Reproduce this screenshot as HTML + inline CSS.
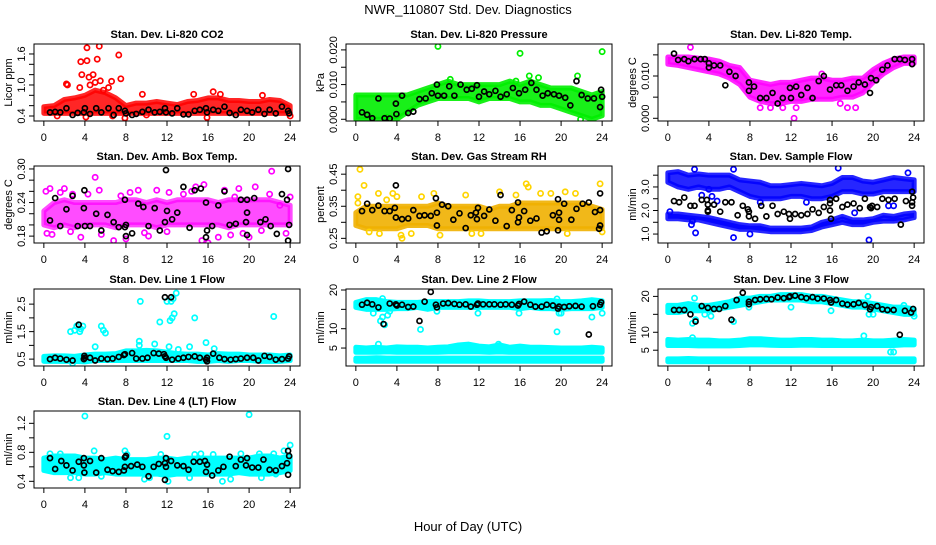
<!DOCTYPE html>
<html><head><meta charset="utf-8"><style>
body{margin:0;background:#fff;}
svg text{font-family:"Liberation Sans",sans-serif;fill:#000;}
</style></head><body>
<svg id="chart" width="936" height="540" viewBox="0 0 936 540" xmlns="http://www.w3.org/2000/svg">
<text x="468" y="14" font-size="13" text-anchor="middle">NWR_110807  Std. Dev. Diagnostics</text>
<text x="468" y="531" font-size="13" text-anchor="middle">Hour of Day (UTC)</text>
</svg>
<script>
const hours=[0,1,2,3,4,5,6,7,8,9,10,11,12,13,14,15,16,17,18,19,20,21,22,23,24];
const xTicks=[0,4,8,12,16,20,24];

// P1 CO2
const co2Lo=[0.45,0.45,0.45,0.45,0.45,0.45,0.45,0.45,0.45,0.45,0.45,0.45,0.45,0.45,0.45,0.45,0.45,0.45,0.45,0.45,0.45,0.45,0.45,0.45,0.45];
const co2Hi=[0.58,0.6,0.72,0.75,0.8,0.9,0.85,0.75,0.6,0.65,0.65,0.68,0.65,0.62,0.68,0.7,0.75,0.75,0.7,0.7,0.68,0.68,0.72,0.7,0.6];
const co2PtX=[2.2,2.3,3.5,3.6,3.7,4.2,4.2,4.4,4.8,5,5.2,5.4,5.5,6.3,6.6,7.3,7.5,4.5,5.8,9.6,14.6,16.5,17.2,21.3,1.3,4.1,7.9,15.9,10,24,6.7];
const co2PtY=[1.02,1.0,0.95,1.45,1.2,1.72,1.47,1.15,1.2,1.05,1.5,1.75,1.08,0.95,1.07,1.58,1.12,1.0,0.9,0.82,0.82,0.87,0.82,0.8,0.4,0.38,0.36,0.37,0.42,0.4,0.4];
const co2BkX=[0.6,1.1,1.6,2.2,2.8,3.3,3.9,4.0,4.5,5.1,5.6,6.3,6.8,7.3,7.9,8,8.6,9.0,9.6,10.2,10.8,11.3,11.8,11.9,12.5,13,13.6,14.1,14.7,15.2,15.8,15.9,16.5,17,17.6,18.1,18.7,19.2,19.8,20.3,20.9,21.5,22,22.6,23.2,23.8,23.9];
const co2BkY=[0.47,0.48,0.47,0.55,0.42,0.46,0.47,0.55,0.44,0.55,0.47,0.55,0.42,0.55,0.5,0.45,0.42,0.44,0.48,0.52,0.47,0.48,0.55,0.47,0.45,0.55,0.43,0.43,0.5,0.52,0.55,0.47,0.52,0.5,0.58,0.46,0.42,0.52,0.5,0.47,0.52,0.44,0.52,0.45,0.58,0.5,0.45];

// P2 pressure
const prLo=[0,0,0,0,0,0.002,0.004,0.005,0.006,0.006,0.006,0.006,0.005,0.006,0.006,0.006,0.005,0.005,0.004,0.004,0.003,0.002,0.001,0,0.001];
const prHi=[0.007,0.007,0.007,0.007,0.007,0.007,0.008,0.009,0.010,0.011,0.010,0.010,0.010,0.010,0.010,0.011,0.010,0.011,0.010,0.009,0.009,0.009,0.008,0.007,0.008];
const prPtX=[8,16,24,16.9,17.8,21.6,15.6,9.2,21.9,3];
const prPtY=[0.021,0.019,0.0195,0.0125,0.012,0.0125,0.011,0.0115,0.0,0.0005];
const prBkX=[0.6,1.1,1.6,2.2,2.8,3.3,3.9,3.95,4.5,5.1,5.6,6.2,6.8,7.4,7.9,8,8.6,9.1,9.6,10.2,10.8,11.3,11.8,12,12.5,13,13.6,14.1,14.7,15.3,15.9,16.5,17.1,17.6,18.2,18.7,19.3,19.8,20.4,20.9,21.5,22,22.6,23.2,23.8,23.9,24];
const prBkY=[0.002,0.0013,0.0003,0.006,0.0003,0.0002,0.0045,0.0015,0.0068,0.0018,0.0022,0.0058,0.006,0.0075,0.01,0.0068,0.0068,0.0095,0.0068,0.01,0.0085,0.0088,0.0098,0.0065,0.008,0.0072,0.0082,0.0065,0.0072,0.009,0.0075,0.0085,0.0105,0.0085,0.0068,0.0075,0.0072,0.0068,0.0062,0.004,0.011,0.007,0.006,0.006,0.0035,0.0085,0.0065];

// P3 Li-820 temp
const ltLo=[0.0128,0.0125,0.012,0.0115,0.011,0.0105,0.0095,0.008,0.005,0.004,0.0035,0.0035,0.004,0.004,0.0045,0.0045,0.0045,0.005,0.005,0.006,0.0085,0.0105,0.012,0.013,0.013];
const ltHi=[0.0145,0.0145,0.0145,0.0142,0.014,0.0135,0.0125,0.012,0.009,0.0085,0.008,0.0085,0.0085,0.009,0.0095,0.0095,0.009,0.009,0.0095,0.0095,0.0115,0.013,0.014,0.0145,0.0145];
const ltPtX=[2.2,12.3,9,10,11.2,16.8,17.5,18.3,15,12.5];
const ltPtY=[0.0168,0,0.0025,0.0025,0.0025,0.0035,0.0025,0.0025,0.0105,0.0025];
const ltBkX=[0.6,1,1.6,2,2.6,3.2,3.6,4,4,4.5,5.1,5.6,6,6.6,7.9,7.9,8.4,9,9.6,10.2,10.7,11.2,11.9,12,12.5,13,13.6,14.1,14.7,15.2,15.8,16.4,16.9,17.5,18.1,18.6,19.2,19.7,19.8,20.3,20.9,21.4,22.1,22.6,23.1,23.8,23.8];
const ltBkY=[0.0153,0.0138,0.014,0.0135,0.014,0.014,0.014,0.013,0.012,0.0125,0.0125,0.0078,0.011,0.01,0.0085,0.0065,0.0075,0.0048,0.0048,0.006,0.0035,0.0048,0.0072,0.0048,0.0075,0.0055,0.0072,0.0048,0.0088,0.01,0.0068,0.0078,0.0078,0.0065,0.0075,0.0085,0.008,0.006,0.0095,0.009,0.0115,0.0125,0.014,0.014,0.0138,0.014,0.0128];

// P4 amb box temp
const abLo=[0.2,0.195,0.2,0.195,0.2,0.2,0.2,0.195,0.2,0.2,0.2,0.195,0.2,0.2,0.2,0.2,0.2,0.2,0.195,0.2,0.2,0.2,0.2,0.2,0.2];
const abHi=[0.225,0.24,0.245,0.24,0.24,0.24,0.24,0.24,0.245,0.245,0.24,0.245,0.24,0.245,0.245,0.245,0.245,0.24,0.245,0.245,0.245,0.245,0.245,0.24,0.235];
const abPtX=[0.2,0.6,0.3,0.8,1.6,2,2.6,2.8,3.6,4.3,5,5.4,5.6,6.8,7.5,8,8.4,9.2,9.8,10.2,11,12,12.2,13.6,14.4,14.8,15.4,15.6,16,17,17.6,18.2,18.6,19,19.4,20,20.6,21.2,22.2,22,23,23.6,24];
const abPtY=[0.26,0.265,0.185,0.183,0.258,0.265,0.188,0.255,0.178,0.255,0.285,0.262,0.183,0.172,0.252,0.175,0.258,0.262,0.186,0.18,0.262,0.188,0.258,0.255,0.26,0.268,0.172,0.272,0.168,0.178,0.262,0.182,0.25,0.265,0.185,0.178,0.268,0.19,0.296,0.255,0.235,0.185,0.25];
const abBkX=[0.6,1.1,1.6,2.2,2.8,3.3,3.9,3.95,4,4.5,5.1,5.6,6.2,6.8,7.3,7.9,7.9,8,8,8.6,9.2,9.7,10.2,10.8,11.3,11.8,11.9,12,12.5,13,13.6,14.2,14.7,15.3,15.8,15.9,15.8,16.4,17,17.6,18.1,18.7,19.2,19.7,19.8,19.8,19.8,20.5,21.1,21.6,22.1,22.7,23.2,23.7,23.8,23.8,23.9];
const abBkY=[0.208,0.248,0.198,0.228,0.252,0.198,0.23,0.262,0.198,0.198,0.22,0.19,0.218,0.205,0.196,0.245,0.196,0.2,0.18,0.185,0.238,0.232,0.198,0.23,0.19,0.205,0.298,0.225,0.21,0.222,0.268,0.195,0.262,0.265,0.24,0.19,0.178,0.198,0.235,0.26,0.2,0.202,0.245,0.205,0.182,0.222,0.245,0.248,0.205,0.21,0.198,0.184,0.255,0.245,0.3,0.172,0.2];

// P5 gas stream RH
const rhLo=[0.29,0.28,0.28,0.28,0.28,0.29,0.29,0.29,0.28,0.28,0.28,0.28,0.28,0.28,0.28,0.28,0.28,0.28,0.28,0.28,0.28,0.28,0.28,0.28,0.28];
const rhHi=[0.33,0.35,0.35,0.35,0.35,0.35,0.35,0.35,0.36,0.35,0.35,0.35,0.35,0.34,0.35,0.35,0.36,0.36,0.36,0.36,0.36,0.36,0.36,0.35,0.34];
const rhPtX=[0.4,0.2,0.2,0.8,2.2,3,3.6,4,4.4,4.5,5.4,6.4,7.6,8.2,10.7,11.3,12.2,14,15.6,16.6,16.8,18,19,20.4,21.4,20.6,23.8,24,1.3,2.3];
const rhPtY=[0.465,0.38,0.36,0.415,0.39,0.37,0.39,0.38,0.26,0.25,0.265,0.38,0.39,0.26,0.385,0.265,0.265,0.395,0.385,0.42,0.41,0.39,0.39,0.395,0.39,0.265,0.42,0.27,0.27,0.265];
const rhBkX=[0.6,1.1,1.6,2.2,2.8,3.3,3.8,3.9,3.9,4.5,5.1,5.6,6.2,6.7,7.3,7.8,7.9,7.9,8.4,9,9.5,10.1,10.7,11.2,11.7,11.8,11.9,12.5,13,13.6,14.1,14.7,15.2,15.8,15.8,15.9,16.4,17,17.6,18.1,18.6,19.2,19.7,19.8,19.7,19.8,20.3,21,21.5,22.1,22.7,23.3,23.8,23.8,23.8,23.7];
const rhBkY=[0.335,0.358,0.338,0.352,0.335,0.335,0.345,0.315,0.415,0.31,0.312,0.338,0.32,0.322,0.32,0.375,0.33,0.29,0.355,0.35,0.308,0.328,0.282,0.322,0.33,0.31,0.345,0.32,0.34,0.305,0.385,0.288,0.338,0.362,0.3,0.315,0.335,0.305,0.312,0.268,0.272,0.322,0.372,0.33,0.275,0.308,0.358,0.308,0.342,0.358,0.362,0.332,0.338,0.39,0.29,0.28];

// P6 sample flow
const sfUpLo=[3.2,3.0,2.9,3.0,2.9,2.9,3.0,2.8,2.6,2.5,2.5,2.5,2.6,2.6,2.5,2.5,2.6,2.8,2.8,2.7,2.7,2.8,2.8,2.8,2.8];
const sfUpHi=[3.6,3.65,3.5,3.55,3.5,3.5,3.5,3.3,3.25,3.2,3.05,3.05,3.1,3.15,3.1,3.05,3.15,3.4,3.4,3.25,3.2,3.3,3.4,3.35,3.3];
const sfDnLo=[1.65,1.65,1.6,1.6,1.5,1.4,1.3,1.2,1.2,1.15,1.1,1.1,1.1,1.1,1.15,1.3,1.4,1.5,1.4,1.4,1.5,1.55,1.55,1.6,1.7];
const sfDnHi=[1.85,1.85,1.8,1.75,1.7,1.6,1.5,1.4,1.35,1.35,1.25,1.25,1.25,1.25,1.3,1.5,1.6,1.75,1.6,1.6,1.65,1.8,1.75,1.85,1.9];
const sfPtX=[0.2,2.7,6.4,19.6,2.6,6.4,3.3,4,4.3,2.3,2.4,8,13.5,21.5,22,18.2,4.8,9,16.6,23.4];
const sfPtY=[1.95,1.05,0.85,0.75,3.75,3.75,2.65,2.9,2.6,1.4,1.55,1.0,2.35,2.2,2.2,1.9,2.4,2.35,3.8,3.6];
const sfBkX=[0.6,1.1,1.6,2.2,2.6,3.3,3.8,3.9,3.9,3.9,4.5,5.1,5.6,6.2,6.8,7.3,7.8,7.9,7.9,8.5,9.1,9.6,10.2,10.7,11.3,11.8,11.9,12.4,13,13.6,14.1,14.7,15.2,15.8,15.8,15.8,15.9,16.4,17,17.5,18.1,18.7,19.2,19.7,19.8,19.9,20.4,20.9,21.5,22.1,22.7,23.2,23.8,23.8,23.9,23.8];
const sfBkY=[2.4,2.35,2.55,2.2,2.2,2.45,2.45,2.0,1.95,2.25,2.25,1.95,2.35,2.35,1.8,2.2,2.05,1.75,1.95,1.65,2.2,1.75,2.2,1.85,1.95,1.85,1.65,1.85,1.8,1.85,2.05,1.9,2.15,2.45,2.3,2.0,1.65,2.5,2.15,2.25,2.3,2.1,2.5,2.15,2.1,2.2,2.15,2.5,2.45,2.5,1.4,2.4,2.2,2.8,2.55,2.35];

// P7 line 1 flow
const l1Lo=[0.42,0.42,0.42,0.42,0.4,0.45,0.45,0.45,0.45,0.45,0.45,0.45,0.45,0.45,0.45,0.42,0.42,0.45,0.42,0.45,0.45,0.42,0.42,0.42,0.45];
const l1Hi=[0.6,0.62,0.62,0.6,0.65,0.68,0.68,0.7,0.8,0.8,0.82,0.8,0.75,0.7,0.68,0.68,0.65,0.7,0.68,0.68,0.65,0.65,0.65,0.62,0.65];
const l1PtX=[2.6,3,3.2,3.4,3.6,3.8,3.5,5.6,5.8,6,5,9.3,9.4,10.8,11.3,12,12.2,12.3,12.5,12.7,12.9,12.4,12.6,13.1,14.2,14.7,15.8,16.6,22.4,2.8,9.3];
const l1PtY=[1.5,1.55,1.7,1.75,1.6,1.7,1.5,1.7,1.55,1.45,0.95,1.15,2.6,1.05,1.85,2.6,0.95,1.9,2.0,2.15,2.9,2.6,2.7,0.85,0.95,2.0,1.1,0.88,2.05,0.35,1.0];
const l1BkX=[0.6,1.1,1.6,2.2,2.8,3.4,3.9,3.95,4,4.5,5,5.6,6.2,6.7,7.3,7.8,7.9,8.6,9,9.6,10.1,10.7,11.2,11.7,11.8,11.9,11.8,12.4,12.5,13.1,13.6,14.1,14.7,15.2,15.8,15.9,15.9,16.5,17.1,17.6,18.2,18.7,19.2,19.8,20.4,20.9,21.5,22,22.6,23.2,23.8,23.9];
const l1BkY=[0.5,0.55,0.52,0.48,0.45,1.75,0.5,0.62,0.55,0.55,0.45,0.52,0.5,0.52,0.58,0.65,0.68,0.72,0.52,0.52,0.55,0.72,0.7,0.68,0.6,0.55,2.75,2.75,0.48,0.52,0.55,0.58,0.6,0.55,0.48,0.42,0.55,0.7,0.55,0.5,0.48,0.5,0.52,0.55,0.55,0.45,0.62,0.58,0.48,0.5,0.52,0.6];

// P8 line 2 flow
const l2TopLo=[15.5,15,15,15,15.2,15.2,15.5,15,15.5,15.5,15.5,15.5,15.5,15.5,15.5,15.5,15.2,15.5,15.2,15.2,15,15.2,15.2,15.2,15.5];
const l2TopHi=[16.8,17.5,17.5,17,16.8,16.8,16.8,17,17,17,17,17.2,17.2,17,17,17,17.2,17.2,17.2,17.3,17,17,17.2,17.5,17.2];
const l2MidLo=[3.9,3.9,3.9,4.0,3.9,3.9,3.9,3.9,3.9,4.0,4.0,4.0,4.0,3.9,4.0,3.9,3.9,3.9,3.9,3.9,3.9,3.9,3.9,3.9,3.9];
const l2MidHi=[5.2,5.0,5.2,5.0,5.3,5.2,5.2,5.0,5.2,5.3,5.8,6.0,5.5,5.3,5.8,5.2,5.5,5.2,5.2,5.1,5.0,5.0,5.0,5.2,5.0];
const l2BotLo=[1.6,1.6,1.6,1.6,1.6,1.6,1.6,1.6,1.6,1.6,1.6,1.6,1.6,1.6,1.6,1.6,1.6,1.6,1.6,1.6,1.6,1.6,1.6,1.6,1.6];
const l2BotHi=[2.4,2.4,2.5,2.4,2.4,2.4,2.4,2.4,2.4,2.4,2.4,2.4,2.4,2.4,2.4,2.4,2.4,2.4,2.4,2.4,2.4,2.4,2.4,2.4,2.4];
const l2PtX=[1.7,2.4,2.6,2.8,3.1,3.3,2.6,6.3,7.9,11.9,15.9,19.6,19.6,19.8,20,23,24,2.2,13.9];
const l2PtY=[14,12,13,11,13.5,14.5,17.8,9.8,14.5,14,14,9.2,17.7,14,14,13,14,6.0,6.0];
const l2BkX=[0.6,1.1,1.6,2.2,2.7,3.3,3.9,4,4.5,5.1,5.6,6.2,6.7,7.3,7.8,7.9,8.5,9,9.6,10.1,10.7,11.2,11.8,11.9,12.4,13,13.5,14.1,14.6,15.2,15.8,15.9,16.4,17,17.5,18.1,18.6,19.2,19.7,19.8,20.3,20.8,21.4,22,22.7,23.1,23.8,23.9];
const l2BkY=[16.2,16.7,16.3,15.5,11.2,16.5,16.3,16,16.2,15.6,15.7,12,17,19.5,16.2,15.5,16.5,16.6,16.4,16.2,16.3,15.7,16.2,16.5,16.3,16.3,16.3,16.2,16.3,16.2,16,16.4,17,16.2,15.7,15.7,16.2,16,15.2,15.7,15.6,15.8,15.9,15.7,8.5,15.8,16.2,16.8];

// P9 line 3 flow
const l3TopLo=[15.5,15.5,16,16,16,16.5,17,17.5,18,18.5,19,19,19,19,18.5,18.5,18,17.5,17,17,16.5,16,15.5,15,15];
const l3TopHi=[17.5,17.5,18,17.5,17.5,18,18.5,19.5,19.5,20,20,20.5,20.5,20.5,20,20,19.5,19,18.5,18.5,18,17.5,17,17,16.5];
const l3MidLo=[6.3,6.3,6.3,6.2,6.2,6.2,6.2,6.3,6.5,6.5,6.4,6.3,6.3,6.4,6.4,6.3,6.3,6.3,6.3,6.3,6.3,6.3,6.3,6.5,6.5];
const l3MidHi=[8.0,7.8,8.0,7.8,7.8,7.6,7.6,7.8,8.2,8.2,8.0,7.8,7.8,8.0,8.0,7.8,7.8,7.6,7.6,7.8,7.6,7.6,7.8,8.0,7.8];
const l3BotLo=[1.8,1.8,1.8,1.8,1.8,1.8,1.8,1.8,1.8,1.8,1.8,1.8,1.8,1.8,1.8,1.8,1.8,1.8,1.8,1.8,1.8,1.8,1.8,1.8,1.8];
const l3BotHi=[2.6,2.6,2.7,2.6,2.6,2.6,2.6,2.6,2.6,2.6,2.6,2.6,2.6,2.6,2.6,2.6,2.6,2.6,2.6,2.6,2.6,2.6,2.6,2.6,2.6];
const l3PtX=[2.4,2.7,2.6,3.6,4.2,6.4,7.9,12,15.9,19.5,19.6,20,23,24,21.7,22,2.4,19.1];
const l3PtY=[12.5,13.5,19.5,15,14.5,13,17,17,16,20,15,15,17.5,14.5,4.5,4.5,8.5,9.0];
const l3BkX=[0.6,1.1,1.6,2.2,2.7,3.3,3.9,4.5,5,5.6,6.2,6.7,7.3,7.9,7.9,8.5,9,9.6,10.1,10.7,11.3,11.8,11.9,12.4,13,13.5,14.1,14.6,15.2,15.8,15.9,16.4,17,17.5,18.1,18.6,19.2,19.7,19.8,20.4,20.9,21.4,22,22.6,23.1,23.7,23.9];
const l3BkY=[16.2,16.2,16.2,15,13,17.3,16.8,16.5,16.5,17.3,13.5,19,21,18.5,17.8,19,19.2,19.3,19.2,19.7,19.5,19.8,20,20.2,19.8,19.5,19.8,19.4,19.4,19,18.3,19,18,17.7,17.8,18.2,17.6,16.4,17,17.3,16.4,16.2,16.2,9.3,16,15.5,16.5];

// P10 line 4 flow
const l4Lo=[0.55,0.52,0.52,0.52,0.5,0.5,0.52,0.5,0.5,0.5,0.5,0.5,0.48,0.5,0.5,0.5,0.5,0.5,0.5,0.52,0.5,0.5,0.5,0.52,0.55];
const l4Hi=[0.72,0.75,0.75,0.75,0.72,0.72,0.7,0.72,0.7,0.7,0.7,0.72,0.72,0.7,0.72,0.72,0.72,0.72,0.72,0.72,0.72,0.75,0.75,0.72,0.75];
const l4PtX=[4,20,12,24,4.9,7.9,0.6,1.6,2.6,3.4,5.6,9.8,10.3,12.1,14.2,17.4,18.2,21.2,22.6,8.1,11.4,14.7,15.3,16.5,19.2,21,22.4,23.4];
const l4PtY=[1.3,1.32,1.02,0.9,0.82,0.82,0.78,0.78,0.45,0.45,0.47,0.43,0.45,0.4,0.45,0.4,0.43,0.45,0.5,0.77,0.77,0.77,0.78,0.77,0.78,0.78,0.78,0.82];
const l4BkX=[0.6,1.1,1.7,2.2,2.8,3.4,3.9,3.9,3.95,4.5,5.1,5.6,6.2,6.7,7.3,7.8,7.9,7.9,8,8.5,9.1,9.6,10.2,10.7,11.2,11.8,11.8,11.9,11.9,12.4,13,13.6,14.1,14.6,15.2,15.7,15.8,15.9,16.4,17,17.5,18.1,18.7,19.2,19.7,19.8,20.3,20.9,21.4,22,22.6,23.2,23.7,23.8,23.9,23.8];
const l4BkY=[0.72,0.57,0.68,0.62,0.55,0.67,0.72,0.62,0.52,0.68,0.52,0.72,0.56,0.54,0.53,0.55,0.6,0.73,0.75,0.61,0.63,0.6,0.47,0.6,0.64,0.42,0.65,0.72,0.6,0.68,0.62,0.61,0.56,0.67,0.67,0.68,0.53,0.63,0.48,0.55,0.6,0.74,0.61,0.7,0.62,0.72,0.59,0.59,0.7,0.56,0.55,0.61,0.65,0.82,0.75,0.49];

const panels=[
 {name:'co2',title:'Stan. Dev. Li-820 CO2',ylab:'Licor ppm',col:0,row:0,ymin:0.303,ymax:1.793,ticks:[0.4,0.6,0.8,1.0,1.2,1.4,1.6],labels:['0.4','1.0','1.6'],color:'#ff0000',bands:[[co2Lo,co2Hi]],px:co2PtX,py:co2PtY,bx:co2BkX,by:co2BkY,op:0.85},
 {name:'pressure',title:'Stan. Dev. Li-820 Pressure',ylab:'kPa',col:1,row:0,ymin:-0.0005,ymax:0.0217,ticks:[0,0.005,0.01,0.015,0.02],labels:['0.000','0.010','0.020'],color:'#00ee00',bands:[[prLo,prHi]],px:prPtX,py:prPtY,bx:prBkX,by:prBkY,op:0.9},
 {name:'li820-temp',title:'Stan. Dev. Li-820 Temp.',ylab:'degrees C',col:2,row:0,ymin:-0.00064,ymax:0.01757,ticks:[0,0.005,0.01,0.015],labels:['0.000','0.010'],color:'#ff00ff',bands:[[ltLo,ltHi]],px:ltPtX,py:ltPtY,bx:ltBkX,by:ltBkY,op:0.85},
 {name:'amb-box-temp',title:'Stan. Dev. Amb. Box Temp.',ylab:'degrees C',col:0,row:1,ymin:0.1677,ymax:0.3053,ticks:[0.18,0.2,0.22,0.24,0.26,0.28,0.3],labels:['0.18','0.24','0.30'],color:'#ff00ff',bands:[[abLo,abHi]],px:abPtX,py:abPtY,bx:abBkX,by:abBkY,op:0.7},
 {name:'gas-stream-rh',title:'Stan. Dev. Gas Stream RH',ylab:'percent',col:1,row:1,ymin:0.2355,ymax:0.4755,ticks:[0.25,0.3,0.35,0.4,0.45],labels:['0.25','0.35','0.45'],color:'#f0b000',pcolor:'#ffd400',bands:[[rhLo,rhHi]],px:rhPtX,py:rhPtY,bx:rhBkX,by:rhBkY,op:0.9},
 {name:'sample-flow',title:'Stan. Dev. Sample Flow',ylab:'ml/min',col:2,row:1,ymin:0.62,ymax:3.89,ticks:[1,1.5,2,2.5,3,3.5],labels:['1.0','2.0','3.0'],color:'#0000ff',bands:[[sfUpLo,sfUpHi],[sfDnLo,sfDnHi]],px:sfPtX,py:sfPtY,bx:sfBkX,by:sfBkY,op:0.85},
 {name:'line1-flow',title:'Stan. Dev. Line 1 Flow',ylab:'ml/min',col:0,row:2,ymin:0.25,ymax:3.05,ticks:[0.5,1,1.5,2,2.5],labels:['0.5','1.5','2.5'],color:'#00ffff',bands:[[l1Lo,l1Hi]],px:l1PtX,py:l1PtY,bx:l1BkX,by:l1BkY,op:1},
 {name:'line2-flow',title:'Stan. Dev. Line 2 Flow',ylab:'ml/min',col:1,row:2,ymin:0.36,ymax:20.26,ticks:[5,10,15,20],labels:['5','10','20'],color:'#00ffff',bands:[[l2TopLo,l2TopHi],[l2MidLo,l2MidHi],[l2BotLo,l2BotHi]],px:l2PtX,py:l2PtY,bx:l2BkX,by:l2BkY,op:1},
 {name:'line3-flow',title:'Stan. Dev. Line 3 Flow',ylab:'ml/min',col:2,row:2,ymin:0.6,ymax:22.06,ticks:[5,10,15,20],labels:['5','10','20'],color:'#00ffff',bands:[[l3TopLo,l3TopHi],[l3MidLo,l3MidHi],[l3BotLo,l3BotHi]],px:l3PtX,py:l3PtY,bx:l3BkX,by:l3BkY,op:1},
 {name:'line4-flow',title:'Stan. Dev. Line 4 (LT) Flow',ylab:'ml/min',col:0,row:3,ymin:0.308,ymax:1.37,ticks:[0.4,0.6,0.8,1.0,1.2],labels:['0.4','0.8','1.2'],color:'#00ffff',bands:[[l4Lo,l4Hi]],px:l4PtX,py:l4PtY,bx:l4BkX,by:l4BkY,op:1}
];
const colLeft=[34,346,658], rowTop=[44,166,289,411], W=266, H=77;
const NS='http://www.w3.org/2000/svg';
const svg=document.getElementById('chart');
function mk(tag,attrs,parent){const e=document.createElementNS(NS,tag);for(const k in attrs)e.setAttribute(k,attrs[k]);(parent||svg).appendChild(e);return e;}

panels.forEach(p=>{
  const L=colLeft[p.col],T=rowTop[p.row],B=T+H,R=L+W;
  const g=mk('g',{});
  
  
  const xs=h=>L+(h+0.96)/25.92*W;
  const ys=v=>B-(v-p.ymin)/(p.ymax-p.ymin)*H;
  const clip=mk('clipPath',{id:'c-'+p.name},g);
  mk('rect',{x:L,y:T,width:W,height:H},clip);
  const pg=mk('g',{'clip-path':'url(#c-'+p.name+')'},g);
  
  
  p.bands.forEach((bd,bi)=>{
    const lo=bd[0],hi=bd[1];
    let pts=hours.map((h,i)=>xs(h)+','+ys(hi[i]));
    pts=pts.concat(hours.slice().reverse().map((h,j)=>{const i=hours.length-1-j;return xs(h)+','+ys(lo[i]);}));
    const poly=mk('polygon',{points:pts.join(' '),fill:p.color,'fill-opacity':p.op,stroke:p.color,'stroke-width':5,'stroke-linejoin':'round','stroke-opacity':p.op},pg);
    
    
  });
  p.px.forEach((h,i)=>{
    const c=mk('circle',{cx:xs(h),cy:ys(p.py[i]),r:2.6,fill:'none',stroke:p.pcolor||p.color,'stroke-width':1.7},pg);
    
    
  });
  p.bx.forEach((h,i)=>{
    const c=mk('circle',{cx:xs(h),cy:ys(p.by[i]),r:2.5,fill:'none',stroke:'#000','stroke-width':1.7},pg);
    
    
  });
  const box=mk('rect',{x:L,y:T,width:W,height:H,fill:'none',stroke:'#000','stroke-width':1},g);
  
  
  const t=mk('text',{x:L+W/2,y:T-6,'font-size':11,'font-weight':'bold','text-anchor':'middle'},g);
  t.textContent=p.title;
  
  
  xTicks.forEach(v=>{
    mk('line',{x1:xs(v),x2:xs(v),y1:B,y2:B+5,stroke:'#000','stroke-width':1},g);
    const tx=mk('text',{x:xs(v),y:B+20,'font-size':11,'text-anchor':'middle'},g);
    tx.textContent=v;
    
    
  });
  p.ticks.forEach(v=>{mk('line',{x1:L-5,x2:L,y1:ys(v),y2:ys(v),stroke:'#000','stroke-width':1},g);});
  p.labels.forEach(s=>{
    const yy=ys(parseFloat(s));
    const ty=mk('text',{x:0,y:0,'font-size':11,'text-anchor':'middle',transform:'translate('+(L-9)+','+yy+') rotate(-90)'},g);
    ty.textContent=s;
    
    
  });
  const yl=mk('text',{x:0,y:0,'font-size':11,'text-anchor':'middle',transform:'translate('+(L-22)+','+(T+H/2)+') rotate(-90)'},g);
  yl.textContent=p.ylab;
  
  
});
</script>
</body></html>
